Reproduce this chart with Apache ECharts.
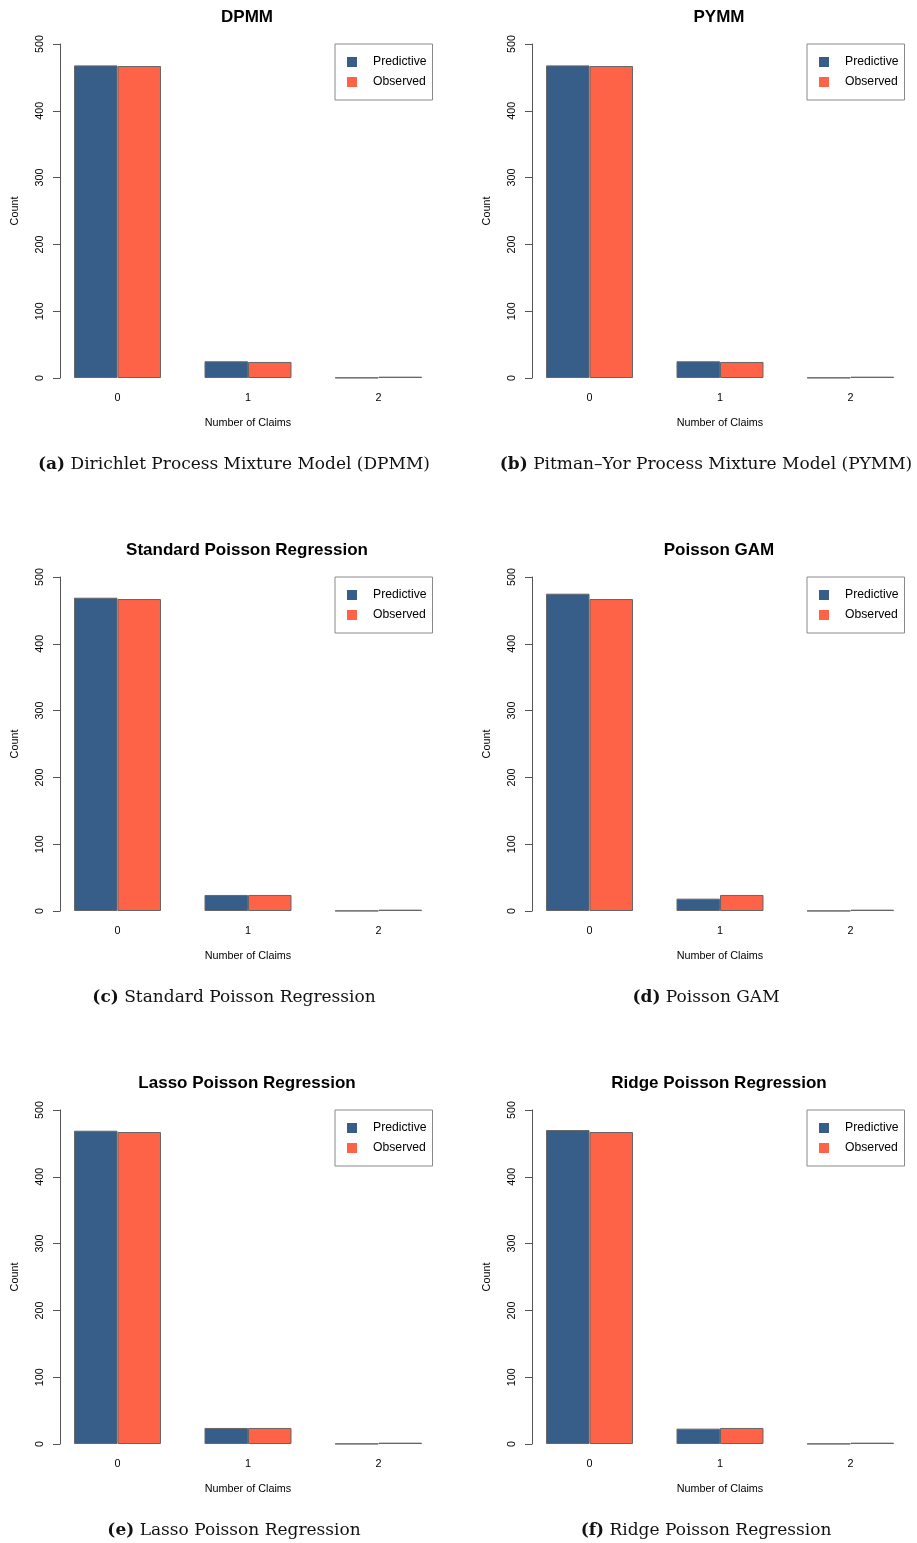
<!DOCTYPE html>
<html>
<head>
<meta charset="utf-8">
<title>Predictive vs Observed claim counts</title>
<script src="https://cdn.jsdelivr.net/npm/echarts@6/dist/echarts.min.js"></script>
<style>
  html, body { margin: 0; padding: 0; background: #fff; }
  #main { width: 917px; height: 1543px; }
</style>
</head>
<body>
<div id="main"></div>
<script>
// 数据
const categories = ['0', '1', '2']; // Number of Claims
const observed = [467, 24, 2];
const predDPMM = [468, 25, 0.5];
const predPYMM = [468, 25, 0.5];
const predStandard = [469, 24, 0.3];
const predGAM = [475, 18.5, 0.2];
const predLasso = [469, 24, 0.3];
const predRidge = [470, 23, 0.3];
const yTicks = { min: 0, max: 500, interval: 100 };

const panelTitles = ['DPMM', 'PYMM', 'Standard Poisson Regression', 'Poisson GAM', 'Lasso Poisson Regression', 'Ridge Poisson Regression'];
const captionTags = ['(a)', '(b)', '(c)', '(d)', '(e)', '(f)'];
const captionTexts = ['Dirichlet Process Mixture Model (DPMM)', 'Pitman\u2013Yor Process Mixture Model (PYMM)', 'Standard Poisson Regression', 'Poisson GAM', 'Lasso Poisson Regression', 'Ridge Poisson Regression'];
const predictive = [predDPMM, predPYMM, predStandard, predGAM, predLasso, predRidge];

const blue = '#365e88';
const orange = '#ff6347';
const sans = 'Liberation Sans, Arial, Helvetica, sans-serif';

const myChart = echarts.init(document.getElementById('main'));

// 版面
const unit = 43.5;      // 一根柱子的宽度
const colStep = 472;
const rowStep = 533;

const grids = [], xAxes = [], yAxes = [], legends = [], series = [], graphics = [];

for (let i = 0; i < 6; i++) {
  const col = i % 2;
  const row = Math.floor(i / 2);
  const left = 52.25 + col * colStep;
  const top = 44 + row * rowStep;

  grids.push({ left: left, top: top, width: unit * 9, height: 334 });

  xAxes.push({
    type: 'category',
    gridIndex: i,
    data: categories,
    name: 'Number of Claims',
    nameLocation: 'middle',
    nameGap: 40,
    nameTextStyle: { fontFamily: sans, fontSize: 10.8, color: '#000' },
    axisLine: { show: false },
    axisTick: { show: false },
    axisLabel: { margin: 15, fontFamily: sans, fontSize: 10.8, color: '#000' }
  });

  yAxes.push({
    type: 'value',
    gridIndex: i,
    min: yTicks.min,
    max: yTicks.max,
    interval: yTicks.interval,
    offset: -7.75, // 轴线与第一根柱子之间留白
    name: 'Count',
    nameLocation: 'middle',
    nameGap: 39,
    nameTextStyle: { fontFamily: sans, fontSize: 10.8, color: '#000' },
    axisLine: { show: true, lineStyle: { color: '#555', width: 1 } },
    axisTick: { show: true, length: 7, lineStyle: { color: '#555', width: 1 } },
    axisLabel: { rotate: 90, margin: 14, fontFamily: sans, fontSize: 10.8, color: '#000' },
    splitLine: { show: false }
  });

  legends.push({
    left: 335 + col * colStep,
    top: 44 + row * rowStep,
    orient: 'vertical',
    data: ['Predictive', 'Observed'],
    icon: 'rect',
    itemWidth: 10,
    itemHeight: 10,
    itemGap: 8,
    padding: [12, 6, 12, 12],
    borderColor: '#8a8a8a',
    borderWidth: 1,
    selectedMode: false,
    itemStyle: { borderWidth: 0 },
    textStyle: { fontFamily: sans, fontSize: 12.2, color: '#000', padding: [0, 0, 0, 11] }
  });

  series.push({
    name: 'Predictive',
    type: 'bar',
    xAxisIndex: i,
    yAxisIndex: i,
    data: predictive[i],
    barWidth: '33.33%',
    barGap: '0%',
    itemStyle: { color: blue, borderColor: '#666', borderWidth: 1 }
  });
  series.push({
    name: 'Observed',
    type: 'bar',
    xAxisIndex: i,
    yAxisIndex: i,
    data: observed,
    barWidth: '33.33%',
    barGap: '0%',
    itemStyle: { color: orange, borderColor: '#666', borderWidth: 1 }
  });

  // 小标题
  graphics.push({
    type: 'text',
    x: 247 + col * colStep,
    y: 17 + row * rowStep,
    style: {
      text: panelTitles[i],
      fontFamily: sans,
      fontSize: 17,
      fontWeight: 'bold',
      fill: '#000',
      textAlign: 'center',
      textVerticalAlign: 'middle'
    }
  });

  // 图注
  graphics.push({
    type: 'text',
    x: 234 + col * colStep,
    y: 465 + row * rowStep,
    style: {
      text: '{b|' + captionTags[i] + '} ' + captionTexts[i],
      fontFamily: 'DejaVu Serif',
      fontSize: 17,
      fill: '#111',
      textAlign: 'center',
      textVerticalAlign: 'middle',
      rich: {
        b: { fontFamily: 'DejaVu Serif', fontSize: 17, fontWeight: 'bold', fill: '#111' }
      }
    }
  });
}

const option = {
  animation: false,
  backgroundColor: '#fff',
  grid: grids,
  xAxis: xAxes,
  yAxis: yAxes,
  legend: legends,
  series: series,
  graphic: graphics
};

myChart.setOption(option);
</script>
</body>
</html>
